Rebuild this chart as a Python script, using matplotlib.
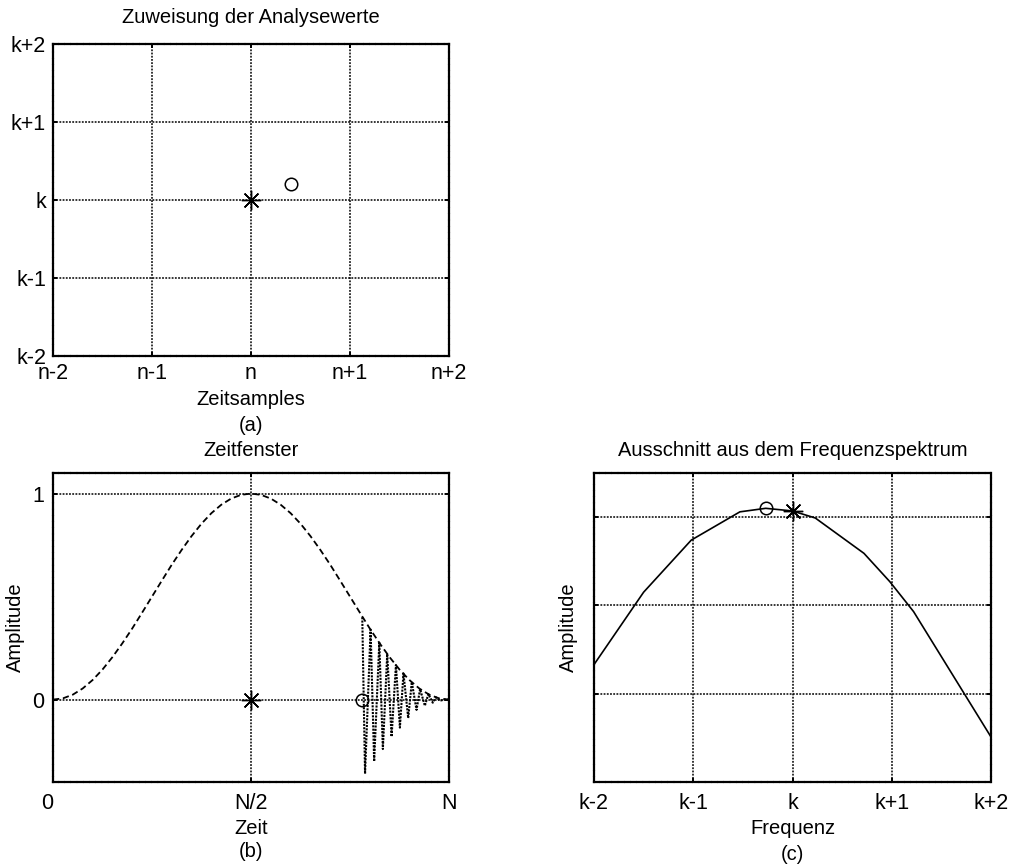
import matplotlib
matplotlib.use("Agg")
import matplotlib.pyplot as plt

plt.rcParams['font.family'] = ['Liberation Sans', 'DejaVu Sans']
plt.rcParams['font.size'] = 14.5
plt.rcParams['xtick.labelsize'] = 15.5
plt.rcParams['ytick.labelsize'] = 15.5

# (a) time/frequency grid with analysis point and reassigned point
grid_a = [-2, -1, 0, 1, 2]
n_labels = ["n-2", "n-1", "n", "n+1", "n+2"]
k_labels = ["k-2", "k-1", "k", "k+1", "k+2"]
orig_a = (0.0, 0.0)
reassigned_a = (0.4, 0.2)

# (b) analysis window and windowed signal
win_t = [0.0, 0.025, 0.05, 0.075, 0.1, 0.125, 0.15, 0.175, 0.2, 0.225,
         0.25, 0.275, 0.3, 0.325, 0.35, 0.375, 0.4, 0.425, 0.45, 0.475,
         0.5, 0.525, 0.55, 0.575, 0.6, 0.625, 0.65, 0.675, 0.7, 0.725,
         0.75, 0.775, 0.8, 0.825, 0.85, 0.875, 0.9, 0.925, 0.95, 0.975, 1.0]
win_amp = [0.0, 0.006, 0.024, 0.054, 0.095, 0.146, 0.206, 0.273, 0.345, 0.422,
           0.5, 0.578, 0.655, 0.727, 0.794, 0.854, 0.905, 0.946, 0.976, 0.994,
           1.0, 0.994, 0.976, 0.946, 0.905, 0.854, 0.794, 0.727, 0.655, 0.578,
           0.5, 0.422, 0.345, 0.273, 0.206, 0.146, 0.095, 0.054, 0.024, 0.006, 0.0]
sig_t = [0.781, 0.788, 0.802, 0.811, 0.824, 0.833, 0.844, 0.855, 0.866, 0.876,
         0.885, 0.897, 0.906, 0.918, 0.927, 0.939, 0.948, 0.959, 0.967, 0.977,
         0.99, 1.0]
sig_amp = [0.40, -0.36, 0.34, -0.30, 0.276, -0.24, 0.222, -0.18, 0.168, -0.136,
           0.127, -0.09, 0.085, -0.05, 0.051, -0.03, 0.027, -0.015, 0.011, -0.005,
           0.0, 0.0]
center_b = (0.5, 0.0)
reassigned_b = (0.78, 0.0)
t_ticks = [0, 0.5, 1]
t_labels = ["0", "N/2", "N"]

# (c) spectrum detail around bin k
freq = [-2.0, -1.5, -1.02, -0.53, -0.27, 0.0, 0.23, 0.72, 0.98, 1.22, 2.0]
spec = [1.33, 2.15, 2.74, 3.06, 3.10, 3.07, 2.99, 2.59, 2.27, 1.93, 0.51]
peak_bin = (0.0, 3.07)
peak_reassigned = (-0.27, 3.10)

W, H = 1010, 864
fig = plt.figure(figsize=(W / 100, H / 100), dpi=100)


def px_axes(left, top, right, bottom):
    return fig.add_axes([left / W, 1 - bottom / H, (right - left) / W, (bottom - top) / H])


def style(ax, xpad, ypad):
    ax.grid(True, color='black', linestyle=(0, (1.2, 0.9)), linewidth=1.1)
    for sp in ax.spines.values():
        sp.set_linestyle((0, (2.0, 0.8)))
        sp.set_linewidth(1.6)
    ax.tick_params(direction='in', length=3, width=1.4, top=True, right=True,
                   colors='black')
    ax.tick_params(axis='x', pad=xpad)
    ax.tick_params(axis='y', pad=ypad)


star = dict(marker=(8, 2, 0), markersize=14, markeredgewidth=1.0, color='black',
            linestyle='none', zorder=5)
circ = dict(marker='o', markersize=9, markerfacecolor='none', markeredgewidth=1.1,
            color='black', linestyle='none', zorder=5)

# --- (a)
ax_a = px_axes(53, 44, 449, 356)
ax_a.set_xlim(-2, 2)
ax_a.set_ylim(-2, 2)
ax_a.set_xticks(grid_a, n_labels)
ax_a.set_yticks(grid_a, k_labels)
style(ax_a, 5, 5)
ax_a.plot(*orig_a, **star)
ax_a.plot(*reassigned_a, **circ)
ax_a.set_title("Zuweisung der Analysewerte", y=1.0865, va='center', pad=0, fontsize=14.5)
ax_a.text(0.5, -0.141, "Zeitsamples", transform=ax_a.transAxes, ha='center', va='center')
ax_a.text(0.5, -0.224, "(a)", transform=ax_a.transAxes, ha='center', va='center')

# --- (b)
ax_b = px_axes(53, 473, 449, 782)
ax_b.plot(win_t, win_amp, color='black', linestyle=(0, (3.5, 2)), linewidth=1.3)
ax_b.plot(sig_t, sig_amp, color='black', linestyle=(0, (1, 0.6)), linewidth=1.5)
ax_b.plot(*center_b, **star)
ax_b.plot(*reassigned_b, **circ)
ax_b.set_xlim(0, 1)
ax_b.set_ylim(-0.4, 1.1)
ax_b.set_xticks(t_ticks, t_labels)
ax_b.set_yticks([0, 1], ["0", "1"])
ax_b.get_xticklabels()[0].set_ha('right')
style(ax_b, 8, 6)
ax_b.set_title("Zeitfenster", y=1.074, va='center', pad=0, fontsize=14.5)
ax_b.set_ylabel("Amplitude")
ax_b.yaxis.set_label_coords(-0.0707, 0.5)
ax_b.text(0.5, -0.149, "Zeit", transform=ax_b.transAxes, ha='center', va='center')
ax_b.text(0.5, -0.2265, "(b)", transform=ax_b.transAxes, ha='center', va='center')

# --- (c)
ax_c = px_axes(594, 473, 991, 782)
ax_c.plot(freq, spec, color='black', linewidth=1.2)
ax_c.plot(*peak_reassigned, **circ)
ax_c.plot(*peak_bin, **star)
ax_c.set_xlim(-2, 2)
ax_c.set_ylim(0, 3.5)
ax_c.set_xticks(grid_a, k_labels)
ax_c.set_yticks([0, 1, 2, 3], [])
style(ax_c, 8, 6)
ax_c.set_title("Ausschnitt aus dem Frequenzspektrum", y=1.074, va='center', pad=0,
               fontsize=14.5)
ax_c.set_ylabel("Amplitude")
ax_c.yaxis.set_label_coords(-0.040, 0.5)
ax_c.text(0.5, -0.149, "Frequenz", transform=ax_c.transAxes, ha='center', va='center')
ax_c.text(0.5, -0.236, "(c)", transform=ax_c.transAxes, ha='center', va='center')

fig.savefig("out.png", dpi=100)
